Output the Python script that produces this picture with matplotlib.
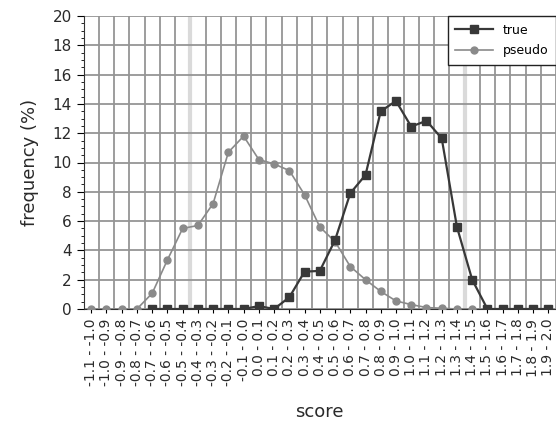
import numpy as np
import matplotlib
matplotlib.use("Agg")
import matplotlib.pyplot as plt
from matplotlib.ticker import MultipleLocator

plt.rcParams['font.family'] = ['DejaVu Sans']

nan = np.nan

# score bins (lower / upper edge) used for the tick labels
score_labels = [
    '-1.1 - -1.0', '-1.0 - -0.9', '-0.9 - -0.8', '-0.8 - -0.7', '-0.7 - -0.6',
    '-0.6 - -0.5', '-0.5 - -0.4', '-0.4 - -0.3', '-0.3 - -0.2', '-0.2 - -0.1',
    '-0.1 - 0.0', '0.0 - 0.1', '0.1 - 0.2', '0.2 - 0.3', '0.3 - 0.4',
    '0.4 - 0.5', '0.5 - 0.6', '0.6 - 0.7', '0.7 - 0.8', '0.8 - 0.9',
    '0.9 - 1.0', '1.0 - 1.1', '1.1 - 1.2', '1.2 - 1.3', '1.3 - 1.4',
    '1.4 - 1.5', '1.5 - 1.6', '1.6 - 1.7', '1.7 - 1.8', '1.8 - 1.9',
    '1.9 - 2.0',
]

true_freq = [nan, nan, nan, nan, 0, 0, 0, 0, 0, 0,
             0, 0.2, 0, 0.8, 2.55, 2.6, 4.7, 7.9, 9.15, 13.5,
             14.2, 12.45, 12.85, 11.65, 5.6, 2.0, 0, 0, 0, 0,
             0]
pseudo_freq = [0, 0, 0, 0, 1.07, 3.35, 5.5, 5.7, 7.2, 10.7,
               11.8, 10.2, 9.9, 9.45, 7.8, 5.6, 4.6, 2.9, 2.0, 1.2,
               0.55, 0.3, 0.1, 0.05, 0, 0, 0, 0, 0, 0,
               0]

x = np.arange(len(score_labels))

fig = plt.figure(figsize=(5.56, 4.28), dpi=100)
ax = fig.add_axes([83.6 / 556, 1 - 309 / 428, (556 - 83.6) / 556, 293 / 428])

# grid: lines between categories, every 2 % horizontally
ax.set_xticks(np.arange(-0.5, len(x)), minor=True)
ax.grid(which='minor', axis='x', color='#959595', lw=1.3)
ax.grid(which='major', axis='y', color='#959595', lw=1.3)
ax.xaxis.set_zorder(0.5)
ax.yaxis.set_zorder(1.5)
# two washed-out grid columns as in the scan
for xv in (6.5, 24.5):
    ax.axvline(xv, color='#dadada', lw=3, zorder=1)

ax.plot(x, pseudo_freq, color='#8a8a8a', lw=1.2, marker='o', ms=5,
        mfc='#8a8a8a', mec='#8a8a8a', label='pseudo', zorder=3)
ax.plot(x, true_freq, color='#383838', lw=1.6, marker='s', ms=5.5,
        mfc='#383838', mec='#383838', label='true', zorder=4)

ax.set_xlim(-0.5, len(x) - 0.5)
ax.set_ylim(0, 20)
ax.yaxis.set_major_locator(MultipleLocator(2))
ax.yaxis.set_minor_locator(MultipleLocator(0.5))
ax.set_xticks(x)
ax.set_xticklabels(score_labels, rotation=90, fontsize=10, color='#2a2a2a')
ax.tick_params(axis='y', which='major', length=5, labelsize=11, labelcolor='#2a2a2a')
ax.tick_params(axis='y', which='minor', length=2.5)
ax.tick_params(axis='x', which='major', length=3, pad=4)
ax.tick_params(axis='x', which='minor', length=0)

for side in ('top', 'right'):
    ax.spines[side].set_visible(False)
ax.spines['left'].set_color('#333333')
ax.spines['bottom'].set_color('#333333')

ax.set_xlabel('score', fontsize=13, color='#2a2a2a', labelpad=12)
ax.set_ylabel('frequency (%)', fontsize=13, color='#2a2a2a', labelpad=10)

handles, labels = ax.get_legend_handles_labels()
leg = ax.legend(handles[::-1], labels[::-1], loc='upper right',
                bbox_to_anchor=(1.0, 1.0), borderaxespad=0, fontsize=9,
                fancybox=False, edgecolor='#222222', framealpha=1,
                handlelength=3.0, borderpad=0.6, labelspacing=0.6)
leg.get_frame().set_linewidth(1.0)

fig.savefig('out.png', dpi=100)
